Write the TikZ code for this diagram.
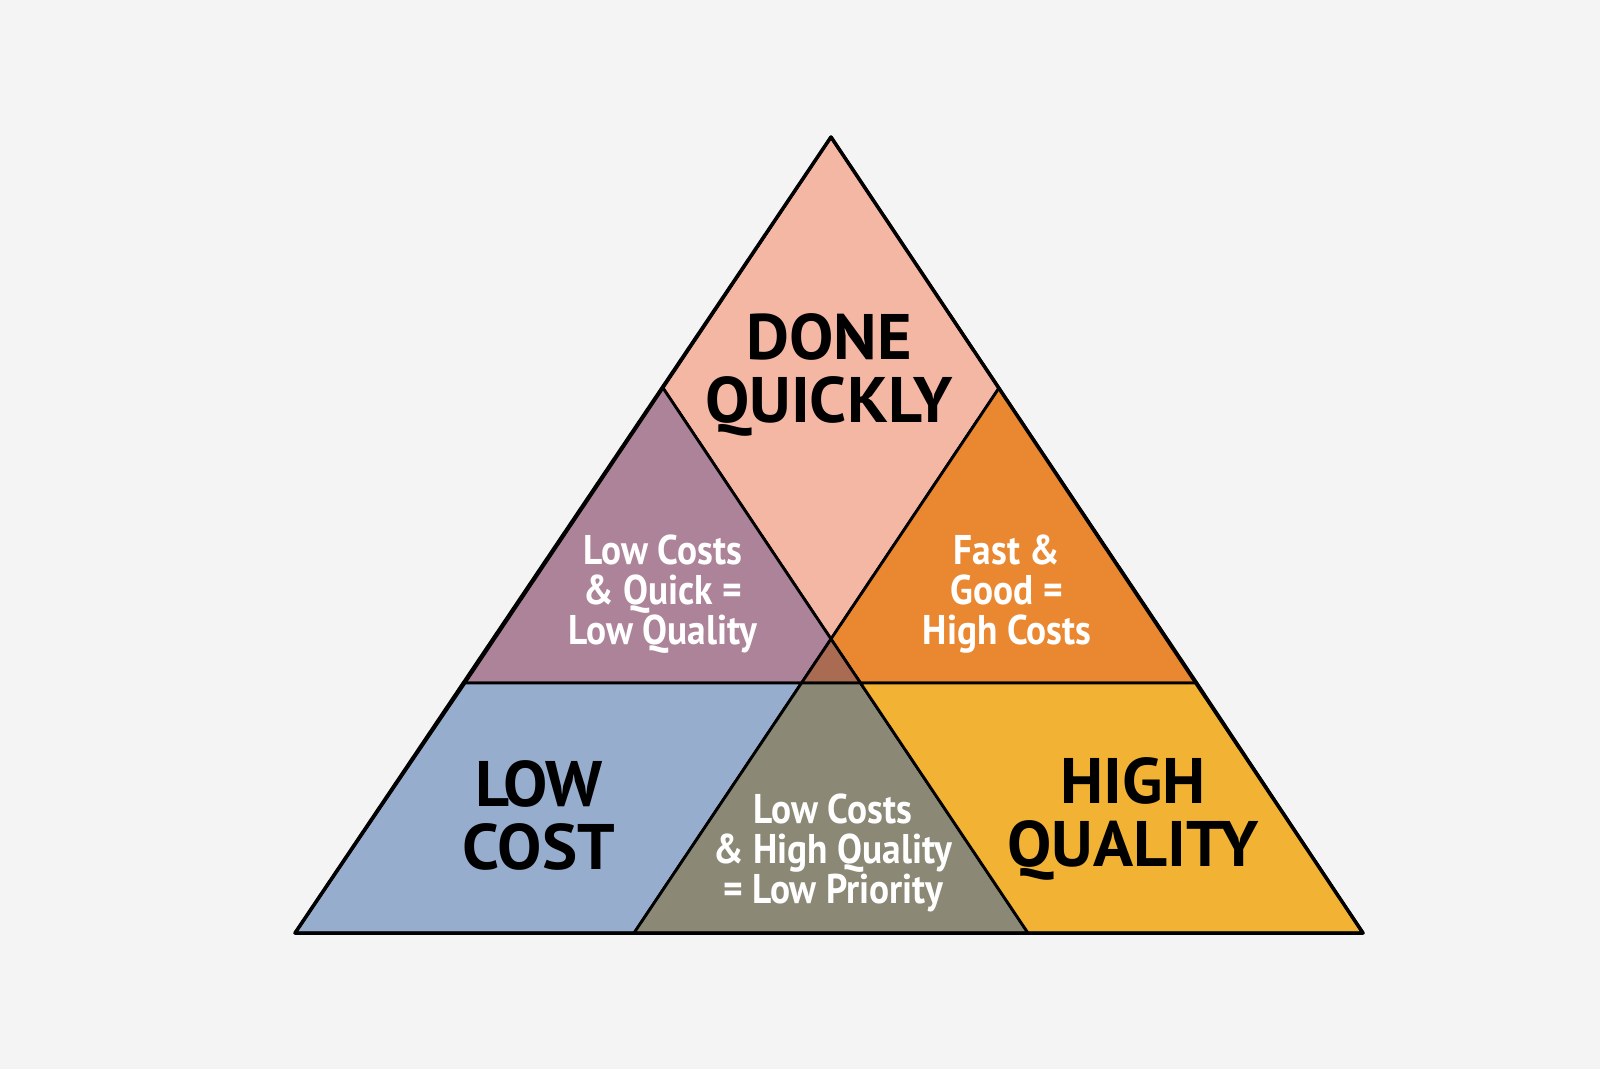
\documentclass[tikz,border=0pt]{standalone}
\usepackage{fontspec}
\setmainfont{PT Sans}
\newfontfamily\titleFont[FakeStretch=1.03]{PT Sans}
\newfontfamily\noteFont[FakeStretch=0.9]{PT Sans}
\usetikzlibrary{positioning}
\definecolor{backgroundColor}{RGB}{244,244,244}
\definecolor{quickColor}{RGB}{243,183,163}
\definecolor{lowQualityColor}{RGB}{173,131,153}
\definecolor{highCostColor}{RGB}{234,136,50}
\definecolor{lowCostColor}{RGB}{151,173,206}
\definecolor{lowPriorityColor}{RGB}{139,136,118}
\definecolor{highQualityColor}{RGB}{242,178,52}
\definecolor{centerColor}{RGB}{169,108,82}
\tikzstyle{pyramid} = [x = 0.01cm, y = -0.01cm]
\tikzstyle{regionStyle} = [draw=black, thick, line join=round]
\tikzstyle{titleText} = [font=\titleFont\bfseries\fontsize{18.3}{17.9}\selectfont, align=center, text=black]
\tikzstyle{noteText} = [font=\noteFont\bfseries\fontsize{11.8}{11.4}\selectfont, align=center, text=white]
\newcommand{\region}[2]{\filldraw [regionStyle, fill=#1] #2 -- cycle;}
\begin{document}
\begin{tikzpicture}[pyramid]
          \fill [backgroundColor] (0,0) rectangle (1600,1069);
          \useasboundingbox (0,0) rectangle (1600,1069);
          % corners of the pyramid
          \coordinate (apex) at (831,137);
          \coordinate (baseLeft) at (295,933);
          \coordinate (baseRight) at (1363,933);
          \coordinate (midLeft) at (663,388);
          \coordinate (midRight) at (999,388);
          \coordinate (center) at (831,639);
          \coordinate (barLeft) at (465,683);
          \coordinate (barRight) at (1197,683);
          \coordinate (smallLeft) at (801.5,683);
          \coordinate (smallRight) at (860.5,683);
          \coordinate (footLeft) at (634,933);
          \coordinate (footRight) at (1028,933);

          \region{quickColor}{(apex) -- (midLeft) -- (center) -- (midRight)}
          \region{lowQualityColor}{(midLeft) -- (barLeft) -- (smallLeft) -- (center)}
          \region{highCostColor}{(midRight) -- (center) -- (smallRight) -- (barRight)}
          \region{centerColor}{(center) -- (smallLeft) -- (smallRight)}
          \region{lowCostColor}{(barLeft) -- (baseLeft) -- (footLeft) -- (smallLeft)}
          \region{lowPriorityColor}{(smallLeft) -- (footLeft) -- (footRight) -- (smallRight)}
          \region{highQualityColor}{(smallRight) -- (footRight) -- (baseRight) -- (barRight)}
          \draw [regionStyle, line width=1pt] (apex) -- (baseLeft) -- (baseRight) -- cycle;

          \node [titleText] (doneQuickly) at (829,375) {DONE\\QUICKLY};
          \node [titleText] (lowCost) at (539,815) {LOW\\COST};
          \node [titleText] (highQuality) at (1133,819) {HIGH\\QUALITY};
          \node [noteText] (lowQuality) at (663,594) {Low Costs\\\& Quick =\\Low Quality};
          \node [noteText] (highCosts) at (1007,594) {Fast \&\\Good =\\High Costs};
          \node [noteText] (lowPriority) at (833,853) {Low Costs\\\& High Quality\\= Low Priority};
        \end{tikzpicture}
\end{document}
